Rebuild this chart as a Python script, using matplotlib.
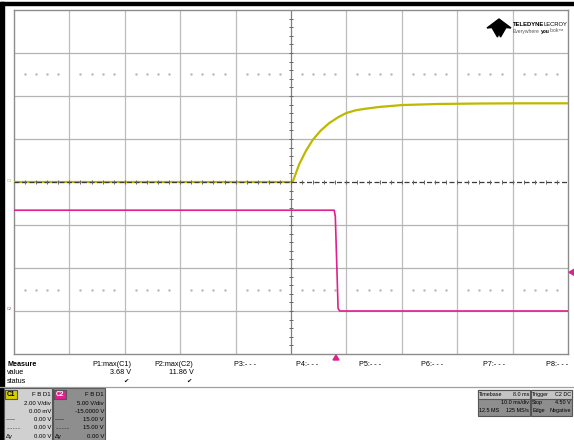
import matplotlib
matplotlib.use("Agg")
import matplotlib.pyplot as plt
from matplotlib.patches import Rectangle, Polygon
from matplotlib.lines import Line2D

plt.rcParams['font.family'] = ['Liberation Sans', 'DejaVu Sans']

W, H = 574, 440

# --- traces (time in ms, trigger at 0) ---
c1_t = [-58.0, -7.7, -6.5, -5.3, -4.1, -2.6, -1.1, 0.5, 2.0, 3.6, 5.2, 7.9, 12.1, 18.8, 26.0, 34.0, 42.0]
c1_v = [0.00, 0.00, 0.84, 1.45, 1.95, 2.40, 2.74, 3.01, 3.21, 3.33, 3.40, 3.49, 3.58, 3.63, 3.65, 3.66, 3.66]
c2_t = [-58.0, -0.2, 0.0, 0.5, 0.8, 42.0]
c2_v = [11.72, 11.72, 11.0, 0.3, 0.0, 0.0]

# channel / timebase settings
c1_vdiv, c1_offset = 2.0, 0.0
c2_vdiv, c2_offset = 5.0, -15.0
t_div, t_left = 10.0, -58.0
trig_level = 4.50

measure_names = ['P1:max(C1)', 'P2:max(C2)', 'P3:- - -', 'P4:- - -', 'P5:- - -', 'P6:- - -', 'P7:- - -', 'P8:- - -']
measure_values = ['3.68 V', '11.86 V', '', '', '', '', '', '']
measure_ok = [True, True, False, False, False, False, False, False]

c1_rows = ['2.00 V/div', '0.00 mV', '0.00 V', '0.00 V', '0.00 V']
c2_rows = ['5.00 V/div', '-15.0000 V', '15.00 V', '15.00 V', '0.00 V']

YEL = '#bdb800'
MAG = '#e0208c'


def fx(x):
    return x / W


def fy(y):
    return 1 - y / H


fig = plt.figure(figsize=(W / 100, H / 100), dpi=100)
fig.patch.set_facecolor('white')

# plot area: 10 x 8 divisions
left, right, top, bottom = 14, 568, 10, 354
ax = fig.add_axes([fx(left), fy(bottom), (right - left) / W, (bottom - top) / H])
ax.set_xlim(t_left, t_left + 10 * t_div)
ax.set_ylim(c1_offset - 4 * c1_vdiv, c1_offset + 4 * c1_vdiv)
ax.set_xticks([])
ax.set_yticks([])
for s in ax.spines.values():
    s.set_color('#8c8c8c')
    s.set_linewidth(1.0)

ax2 = ax.twinx()
ax2.set_ylim(-c2_offset - 4 * c2_vdiv, -c2_offset + 4 * c2_vdiv)
ax2.axis('off')

# grid
for k in range(1, 10):
    if k != 5:
        ax.axvline(t_left + k * t_div, color='#bcbcbc', lw=0.9, zorder=1)
for k in range(1, 8):
    if k != 4:
        ax.axhline(-4 * c1_vdiv + k * c1_vdiv, color='#b4b4b4', lw=0.9, zorder=1)

# dotted rows at +-2.5 div
dx = [t_left + i * t_div / 5 for i in range(1, 50) if i % 5]
for yd in (2.5, -2.5):
    ax.plot(dx, [yd * c1_vdiv] * len(dx), ls='', marker='s', ms=0.7, color='#b8b8b8', zorder=1)

# center cross with minor ticks
tc = t_left + 5 * t_div
ax.axvline(tc, color='#808080', lw=0.9, zorder=2)
ax.axhline(0, color='#3c3c3c', lw=0.9, dashes=(4, 2), zorder=5)
ax.plot([t_left + i * t_div / 5 for i in range(1, 50)], [0] * 49, ls='', marker='|', ms=2.5,
        mew=0.7, color='#666666', zorder=5)
ax.plot([tc] * 39, [-4 * c1_vdiv + i * c1_vdiv / 5 for i in range(1, 40)], ls='', marker='_',
        ms=2.5, mew=0.7, color='#666666', zorder=2)

# traces
ax.plot(c1_t, c1_v, color=YEL, lw=1.6, zorder=4, solid_joinstyle='round')
ax2.plot(c2_t, c2_v, color=MAG, lw=1.2, zorder=4)
ax2.set_xlim(ax.get_xlim())

# trace markers on the left edge
fig.text(fx(9), fy(181), 'C1', fontsize=3, color=YEL, ha='center', va='center')
fig.text(fx(9), fy(309), 'C2', fontsize=3, color=MAG, ha='center', va='center')

# trigger position / level markers
fig.add_artist(Polygon([(fx(333), fy(360)), (fx(339), fy(360)), (fx(336), fy(355))],
                       closed=True, color=MAG, transform=fig.transFigure))
trig_y = H - ax2.transData.transform((0, trig_level))[1]
fig.add_artist(Polygon([(fx(569), fy(trig_y)), (fx(574), fy(trig_y - 3)), (fx(574), fy(trig_y + 3))],
                       closed=True, color=MAG, transform=fig.transFigure))

# black frame top/left
fig.add_artist(Rectangle((0, fy(5.5)), 1, 3 / H, color='black', transform=fig.transFigure))
fig.add_artist(Rectangle((0, 0), 3.5 / W, fy(2.5), color='black', transform=fig.transFigure))

# logo
logo = [(499, 19), (511, 28), (506, 27.5), (500.5, 37), (499, 33), (497.5, 37), (492, 27.5), (487, 28)]
fig.add_artist(Polygon([(fx(a), fy(b)) for a, b in logo], closed=True, color='black',
                       transform=fig.transFigure))
fig.text(fx(513), fy(24), 'TELEDYNE', fontsize=4.2, weight='bold', va='center')
fig.text(fx(567), fy(24), 'LECROY', fontsize=4.2, ha='right', va='center')
fig.text(fx(513), fy(31), 'Everywhere', fontsize=3.6, color='#555555', va='center')
fig.text(fx(540.5), fy(31), 'you', fontsize=3.6, weight='bold', va='center')
fig.text(fx(549.5), fy(31), 'look\u2122', fontsize=3.6, color='#555555', va='center')

# measure table
fs = 5.2
fig.text(fx(7), fy(364), 'Measure', fontsize=fs, weight='bold', va='center')
fig.text(fx(7), fy(372.5), 'value', fontsize=fs, va='center')
fig.text(fx(7), fy(381), 'status', fontsize=fs, va='center')
for i, name in enumerate(measure_names):
    xr = 131 + i * 62.4
    fig.text(fx(xr), fy(364), name, fontsize=fs, ha='right', va='center')
    if measure_values[i]:
        fig.text(fx(xr), fy(372.5), measure_values[i], fontsize=fs, ha='right', va='center')
    if measure_ok[i]:
        fig.text(fx(xr - 2), fy(381), '\u2714', fontsize=4.6, ha='right', va='center',
                 family='DejaVu Sans')
fig.add_artist(Line2D([0, 1], [fy(387), fy(387)], color='#a0a0a0', lw=0.9, transform=fig.transFigure))


def box(x0, x1, y0, y1, fc):
    fig.add_artist(Rectangle((fx(x0), fy(y1)), (x1 - x0) / W, (y1 - y0) / H, facecolor=fc,
                             edgecolor='#555555', lw=0.8, transform=fig.transFigure))


# channel descriptors
fs2 = 4.3
for x0, x1, fc, lab, lab_fc, lab_c, rows in [
        (4, 52, '#d0d0d0', 'C1', '#d6cf00', 'black', c1_rows),
        (53, 105, '#8e8e8e', 'C2', MAG, 'white', c2_rows)]:
    box(x0, x1, 388, 441, fc)
    box(x0 + 1, x0 + 13, 389.5, 398.5, lab_fc)
    fig.text(fx(x0 + 7), fy(394), lab, fontsize=fs2 + 0.5, weight='bold', color=lab_c,
             ha='center', va='center')
    fig.text(fx(x1 - 1), fy(394), 'F B D1', fontsize=fs2, ha='right', va='center')
    for j, r in enumerate(rows):
        fig.text(fx(x1 - 1), fy(403 + j * 8.3), r, fontsize=fs2, ha='right', va='center')
    fig.text(fx(x0 + 2), fy(419.6), '-----', fontsize=fs2, va='center')
    fig.text(fx(x0 + 2), fy(427.9), '.........', fontsize=fs2, va='center')
    fig.text(fx(x0 + 2), fy(436.2), '\u0394y', fontsize=fs2, va='center')

# timebase / trigger descriptors
fs3 = 3.9
for x0, x1, rows in [
        (478, 530, [('Timebase', '8.0 ms'), ('', '10.0 ms/div'), ('12.5 MS', '125 MS/s')]),
        (531, 572, [('Trigger', 'C2 DC'), ('Stop', '4.50 V'), ('Edge', 'Negative')])]:
    box(x0, x1, 390, 416, '#8e8e8e')
    box(x0, x1, 390, 398.5, '#c4c4c4')
    for j, (a, b) in enumerate(rows):
        yy = 394 + j * 8.3
        if a:
            fig.text(fx(x0 + 1.2), fy(yy), a, fontsize=fs3, va='center')
        fig.text(fx(x1 - 0.8), fy(yy), b, fontsize=fs3, ha='right', va='center')

fig.savefig('out.png', dpi=100)
